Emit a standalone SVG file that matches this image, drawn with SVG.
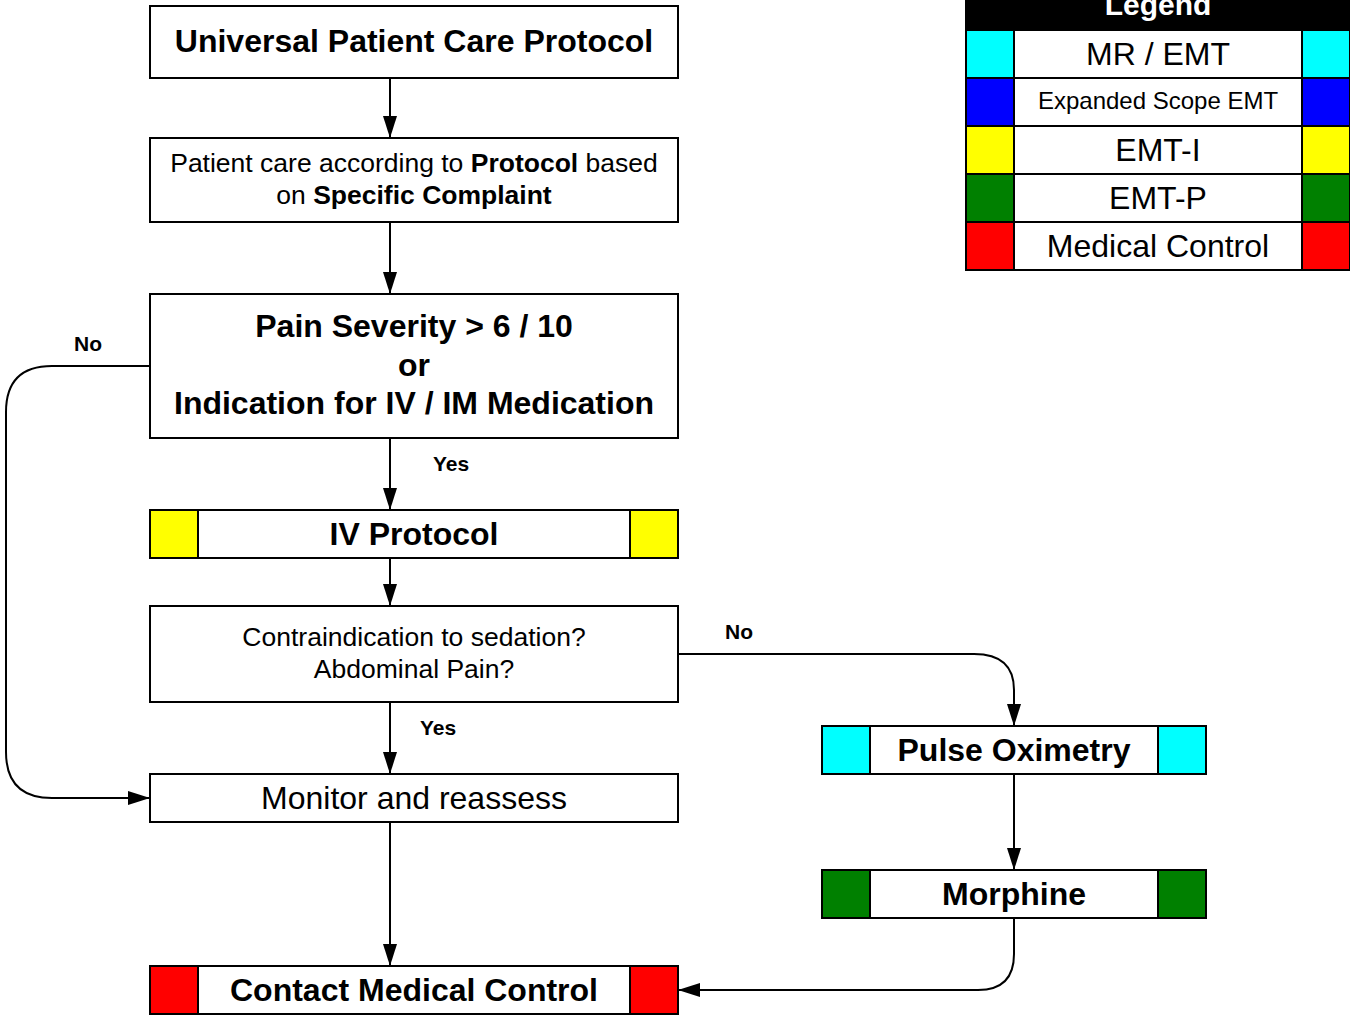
<svg xmlns="http://www.w3.org/2000/svg" width="1350" height="1015" viewBox="0 0 1350 1015">
<defs>
<marker id="ah" viewBox="0 0 22 14" refX="22" refY="7" markerWidth="22" markerHeight="14" markerUnits="userSpaceOnUse" orient="auto">
<path d="M0,0 L22,7 L0,14 Z" fill="#000"/>
</marker>
</defs>
<style>
.box{fill:#fff;stroke:#000;stroke-width:2}
.t{font-family:"Liberation Sans",Arial,sans-serif;fill:#000;text-anchor:middle}
.b{font-weight:bold}
.c{fill:none;stroke:#000;stroke-width:2}
.lab{font-family:"Liberation Sans",Arial,sans-serif;font-weight:bold;font-size:21px;fill:#000;text-anchor:middle}
</style>
<rect width="1350" height="1015" fill="#fff"/>
<g id="connectors">
<path class="c" d="M390,78 V138" marker-end="url(#ah)"/>
<path class="c" d="M390,222 V294" marker-end="url(#ah)"/>
<path class="c" d="M390,438 V510" marker-end="url(#ah)"/>
<path class="c" d="M390,558 V606" marker-end="url(#ah)"/>
<path class="c" d="M390,702 V774" marker-end="url(#ah)"/>
<path class="c" d="M390,822 V966" marker-end="url(#ah)"/>
<path class="c" d="M150,366 H52 Q6,366 6,412 V752 Q6,798 52,798 H150" marker-end="url(#ah)"/>
<path class="c" d="M678,654 H974 Q1014,654 1014,690 V726" marker-end="url(#ah)"/>
<path class="c" d="M1014,774 V870" marker-end="url(#ah)"/>
<path class="c" d="M1014,918 V954 Q1014,990 978,990 H678" marker-end="url(#ah)"/>
<text class="lab" x="88" y="351">No</text>
<text class="lab" x="739" y="639">No</text>
<text class="lab" x="451" y="471">Yes</text>
<text class="lab" x="438" y="735">Yes</text>
</g>
<g id="n1">
<rect class="box" x="150" y="6" width="528" height="72"/>
<text class="t b" x="414" y="52" font-size="32">Universal Patient Care Protocol</text>
</g>
<g id="n2">
<rect class="box" x="150" y="138" width="528" height="84"/>
<text class="t" x="414" y="172" font-size="26.5">Patient care according to <tspan font-weight="bold">Protocol</tspan> based</text>
<text class="t" x="414" y="204" font-size="26.5">on <tspan font-weight="bold">Specific Complaint</tspan></text>
</g>
<g id="n3">
<rect class="box" x="150" y="294" width="528" height="144"/>
<text class="t b" x="414" y="337" font-size="32">Pain Severity &gt; 6 / 10</text>
<text class="t b" x="414" y="376" font-size="32">or</text>
<text class="t b" x="414" y="414" font-size="32">Indication for IV / IM Medication</text>
</g>
<g id="n4">
<rect class="box" x="150" y="510" width="528" height="48"/>
<rect class="box" x="150" y="510" width="48" height="48" style="fill:#ff0"/>
<rect class="box" x="630" y="510" width="48" height="48" style="fill:#ff0"/>
<text class="t b" x="414" y="545" font-size="32">IV Protocol</text>
</g>
<g id="n5">
<rect class="box" x="150" y="606" width="528" height="96"/>
<text class="t" x="414" y="646" font-size="26.5">Contraindication to sedation?</text>
<text class="t" x="414" y="678" font-size="26.5">Abdominal Pain?</text>
</g>
<g id="n6">
<rect class="box" x="150" y="774" width="528" height="48"/>
<text class="t" x="414" y="809" font-size="32">Monitor and reassess</text>
</g>
<g id="n7">
<rect class="box" x="150" y="966" width="528" height="48"/>
<rect class="box" x="150" y="966" width="48" height="48" style="fill:#f00"/>
<rect class="box" x="630" y="966" width="48" height="48" style="fill:#f00"/>
<text class="t b" x="414" y="1001" font-size="32">Contact Medical Control</text>
</g>
<g id="n8">
<rect class="box" x="822" y="726" width="384" height="48"/>
<rect class="box" x="822" y="726" width="48" height="48" style="fill:#0ff"/>
<rect class="box" x="1158" y="726" width="48" height="48" style="fill:#0ff"/>
<text class="t b" x="1014" y="761" font-size="32">Pulse Oximetry</text>
</g>
<g id="n9">
<rect class="box" x="822" y="870" width="384" height="48"/>
<rect class="box" x="822" y="870" width="48" height="48" style="fill:#008000"/>
<rect class="box" x="1158" y="870" width="48" height="48" style="fill:#008000"/>
<text class="t b" x="1014" y="905" font-size="32">Morphine</text>
</g>
<g id="legend">
<rect x="966" y="-18" width="384" height="48" fill="#000" stroke="#000" stroke-width="2"/>
<text class="t b" x="1158" y="15" font-size="30" style="fill:#fff">Legend</text>
<rect class="box" x="966" y="30" width="384" height="48"/>
<rect class="box" x="966" y="30" width="48" height="48" style="fill:#0ff"/>
<rect class="box" x="1302" y="30" width="48" height="48" style="fill:#0ff"/>
<text class="t" x="1158" y="65" font-size="32">MR / EMT</text>
<rect class="box" x="966" y="78" width="384" height="48"/>
<rect class="box" x="966" y="78" width="48" height="48" style="fill:#00f"/>
<rect class="box" x="1302" y="78" width="48" height="48" style="fill:#00f"/>
<text class="t" x="1158" y="109" font-size="24">Expanded Scope EMT</text>
<rect class="box" x="966" y="126" width="384" height="48"/>
<rect class="box" x="966" y="126" width="48" height="48" style="fill:#ff0"/>
<rect class="box" x="1302" y="126" width="48" height="48" style="fill:#ff0"/>
<text class="t" x="1158" y="161" font-size="32">EMT-I</text>
<rect class="box" x="966" y="174" width="384" height="48"/>
<rect class="box" x="966" y="174" width="48" height="48" style="fill:#008000"/>
<rect class="box" x="1302" y="174" width="48" height="48" style="fill:#008000"/>
<text class="t" x="1158" y="209" font-size="32">EMT-P</text>
<rect class="box" x="966" y="222" width="384" height="48"/>
<rect class="box" x="966" y="222" width="48" height="48" style="fill:#f00"/>
<rect class="box" x="1302" y="222" width="48" height="48" style="fill:#f00"/>
<text class="t" x="1158" y="257" font-size="32">Medical Control</text>
</g>
</svg>
